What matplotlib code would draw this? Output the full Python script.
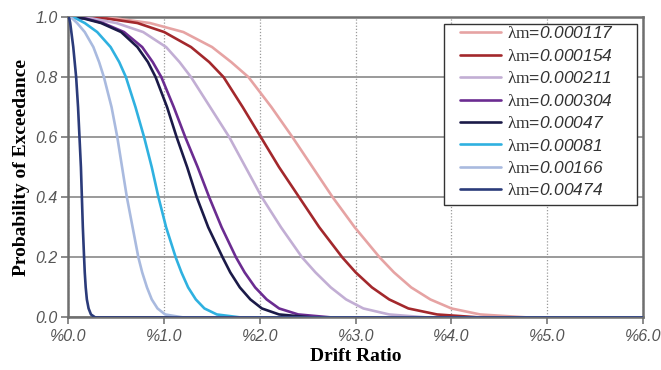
import numpy as np
import matplotlib
matplotlib.use('Agg')
import matplotlib.pyplot as plt
from matplotlib.patches import Rectangle

plt.rcParams['font.family'] = ['Liberation Sans', 'DejaVu Sans']
plt.rcParams['mathtext.fontset'] = 'custom'
plt.rcParams['mathtext.rm'] = 'Liberation Sans:italic'
plt.rcParams['mathtext.sf'] = 'Liberation Serif'

# exceedance levels shared by every curve
prob = [1.0, 0.995, 0.98, 0.95, 0.9, 0.85, 0.8, 0.7, 0.6, 0.5, 0.4, 0.3, 0.2, 0.15, 0.1, 0.06, 0.03, 0.01, 0.0, 0.0]

# drift ratio (%) where each curve hits the levels above
drift_000117 = [0, 0.50, 0.85, 1.20, 1.50, 1.70, 1.88, 2.12, 2.34, 2.55, 2.76, 2.99, 3.25, 3.40, 3.58, 3.78, 4.00, 4.30, 4.80, 6.0]
drift_000154 = [0, 0.40, 0.72, 1.00, 1.28, 1.47, 1.62, 1.82, 2.01, 2.20, 2.41, 2.62, 2.86, 3.00, 3.17, 3.35, 3.55, 3.85, 4.30, 6.0]
drift_000211 = [0, 0.25, 0.50, 0.78, 1.02, 1.16, 1.28, 1.48, 1.68, 1.85, 2.02, 2.22, 2.44, 2.58, 2.74, 2.90, 3.08, 3.35, 3.75, 6.0]
drift_000304 = [0, 0.18, 0.36, 0.58, 0.77, 0.88, 0.97, 1.10, 1.22, 1.35, 1.47, 1.60, 1.75, 1.84, 1.95, 2.07, 2.20, 2.40, 2.75, 6.0]
drift_00047 = [0, 0.16, 0.34, 0.55, 0.72, 0.83, 0.91, 1.03, 1.13, 1.24, 1.34, 1.46, 1.61, 1.69, 1.79, 1.90, 2.02, 2.20, 2.55, 6.0]
drift_00081 = [0, 0.08, 0.17, 0.30, 0.44, 0.53, 0.60, 0.70, 0.79, 0.87, 0.94, 1.02, 1.12, 1.18, 1.25, 1.33, 1.42, 1.55, 1.80, 6.0]
drift_00166 = [0, 0.04, 0.09, 0.17, 0.26, 0.32, 0.37, 0.45, 0.51, 0.56, 0.61, 0.67, 0.73, 0.77, 0.82, 0.87, 0.93, 1.01, 1.20, 6.0]
drift_00474 = [0, 0.008, 0.018, 0.03, 0.05, 0.065, 0.08, 0.10, 0.115, 0.13, 0.14, 0.15, 0.163, 0.17, 0.18, 0.192, 0.21, 0.235, 0.28, 6.0]

lambdas = ['0.000117', '0.000154', '0.000211', '0.000304', '0.00047', '0.00081', '0.00166', '0.00474']
curves = [drift_000117, drift_000154, drift_000211, drift_000304, drift_00047, drift_00081, drift_00166, drift_00474]
colors = ['#e6a3a3', '#a3282c', '#c2aed4', '#6b2c91', '#1b1a48', '#2fb1e0', '#a9badf', '#2b3b7a']

x_ticks = [0, 1, 2, 3, 4, 5, 6]
y_ticks = [0.0, 0.2, 0.4, 0.6, 0.8, 1.0]

fig = plt.figure(figsize=(6.61, 3.70), dpi=100)
ax = fig.add_axes([0.1036, 0.142, 0.869, 0.812])

for lam, xs, c in zip(lambdas, curves, colors):
    # serif "λm" then the value in italic sans
    ax.plot(xs, prob, color=c, lw=1.9, label=r'$\mathsf{λm}$=$' + lam + '$',
            solid_capstyle='round', solid_joinstyle='round', zorder=3)

ax.set_xlim(0, 6)
ax.set_ylim(0, 1)
ax.set_xticks(x_ticks)
ax.set_xticklabels(['%{:.1f}'.format(v) for v in x_ticks])
ax.set_yticks(y_ticks)
ax.set_yticklabels(['{:.1f}'.format(v) for v in y_ticks])

for lab in ax.get_xticklabels() + ax.get_yticklabels():
    lab.set_fontstyle('italic')
    lab.set_color('#555555')
    lab.set_fontsize(11.5)

ax.tick_params(axis='both', direction='out', length=5, width=1.2, color='#777777', pad=3)

ax.yaxis.grid(True, color='#9a9a9a', lw=1.4, ls='-')
ax.xaxis.grid(True, color='#9a9a9a', lw=0.9, ls=(0, (1, 1.5)))
ax.set_axisbelow(True)

for s in ax.spines.values():
    s.set_color('#6f6f6f')
    s.set_linewidth(1.8)

ax.set_xlabel('Drift Ratio', fontfamily='Liberation Serif', fontweight='bold', fontsize=14, labelpad=3)
ax.set_ylabel('Probability of Exceedance', fontfamily='Liberation Serif', fontweight='bold', fontsize=14, labelpad=4)

# legend box drawn at figure level (on top of the axes) with wider side margins
box = Rectangle((0.654, 0.374), 0.336, 0.603, transform=ax.transAxes,
                facecolor='white', edgecolor='#333333', lw=1.0, zorder=10)
fig.add_artist(box)
handles, labels = ax.get_legend_handles_labels()
leg = fig.legend(handles, labels, loc='upper left', bbox_to_anchor=(0.681, 0.972),
                 bbox_transform=ax.transAxes, borderaxespad=0,
                 fontsize=12.5, handlelength=2.4, handletextpad=0.35, labelspacing=0.37,
                 frameon=False, borderpad=0)
leg.set_zorder(11)
for t in leg.get_texts():
    t.set_color('#333333')

fig.savefig('out.png', dpi=100)
